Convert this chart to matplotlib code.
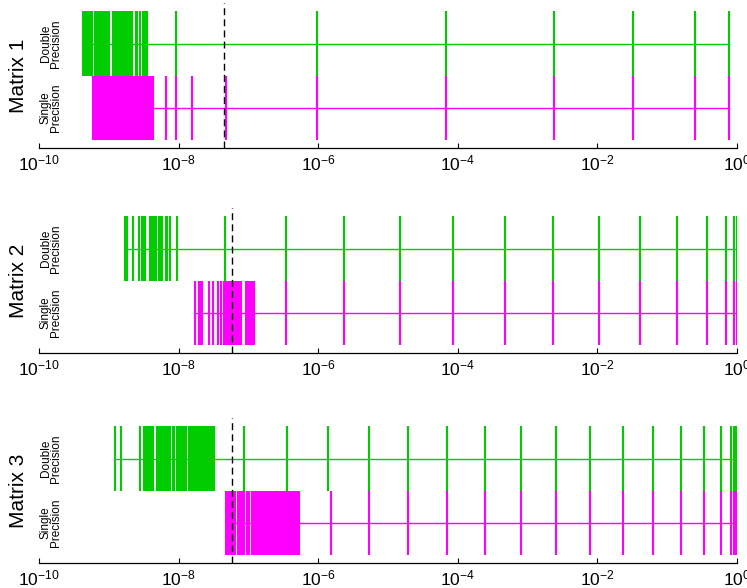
import numpy as np
import matplotlib
matplotlib.use("Agg")
import matplotlib.pyplot as plt
from matplotlib.transforms import blended_transform_factory

plt.rcParams["font.family"] = ["Liberation Sans", "DejaVu Sans"]
plt.rcParams["mathtext.default"] = "regular"

# log10 of each value
M1_DOUBLE = [-9.37, -9.35, -9.33, -9.31, -9.29, -9.27, -9.24, -9.20, -9.18, -9.16,
             -9.14, -9.12, -9.10, -9.08, -9.06, -9.04, -9.02, -9.00, -8.95, -8.93,
             -8.91, -8.89, -8.87, -8.85, -8.83, -8.81, -8.79, -8.77, -8.75, -8.73,
             -8.71, -8.69, -8.67, -8.62, -8.60, -8.55, -8.52, -8.49, -8.46,
             -8.041, -6.020, -4.171, -2.623, -1.491, -0.602, -0.115]
M1_SINGLE = [-9.23, -9.21, -9.19, -9.17, -9.15, -9.13, -9.11, -9.09, -9.07, -9.05,
             -9.03, -9.01, -8.99, -8.97, -8.95, -8.93, -8.91, -8.89, -8.87, -8.85,
             -8.83, -8.81, -8.79, -8.77, -8.75, -8.73, -8.71, -8.69, -8.67, -8.65,
             -8.63, -8.61, -8.59, -8.57, -8.55, -8.53, -8.51, -8.49, -8.47, -8.45,
             -8.43, -8.41, -8.39, -8.37,
             -8.184, -8.041, -7.811, -7.324,
             -6.020, -4.171, -2.623, -1.491, -0.602, -0.115]

M2_DOUBLE = [-8.767, -8.739, -8.653, -8.567, -8.524, -8.499, -8.485, -8.418, -8.399,
             -8.366, -8.352, -8.332, -8.280, -8.260, -8.246, -8.188, -8.174, -8.127,
             -8.026, -7.334,
             -6.464, -5.633, -4.830, -4.066, -3.329, -2.637, -1.982, -1.390, -0.860,
             -0.430, -0.157, -0.036, -0.004]
M2_SINGLE = [-7.768, -7.707, -7.682, -7.664, -7.563, -7.510, -7.443, -7.396, -7.348,
             -7.334, -7.310, -7.291, -7.277, -7.257, -7.219, -7.205, -7.191, -7.176,
             -7.162, -7.148, -7.133, -7.119, -7.105, -7.042, -7.023, -7.004, -6.984,
             -6.966, -6.941, -6.916,
             -6.464, -5.633, -4.830, -4.066, -3.329, -2.637, -1.982, -1.390, -0.860,
             -0.430, -0.157, -0.036, -0.004]

M3_DOUBLE = [-8.919, -8.829, -8.561, -8.504, -8.485, -8.452, -8.432, -8.413, -8.389,
             -8.366, -8.31, -8.29, -8.27, -8.25, -8.23, -8.21, -8.19, -8.16, -8.13,
             -8.09, -8.07, -8.02, -8.00, -7.98, -7.96, -7.94, -7.92, -7.90, -7.86,
             -7.84, -7.82, -7.79, -7.77, -7.75, -7.73, -7.69, -7.67, -7.64, -7.62,
             -7.60, -7.58, -7.56, -7.54, -7.52, -7.50,
             -7.062, -6.450, -5.862, -5.275, -4.715, -4.157, -3.612, -3.100, -2.594,
             -2.103, -1.638, -1.204, -0.803, -0.477, -0.229, -0.090, -0.043, -0.029,
             -0.014, -0.002]
M3_SINGLE = [-7.32, -7.30, -7.27, -7.25, -7.23, -7.21, -7.19, -7.15, -7.13, -7.11,
             -7.09, -7.07, -7.03, -7.01, -6.99, -6.95, -6.925, -6.90, -6.875, -6.85,
             -6.825, -6.80, -6.775, -6.75, -6.725, -6.70, -6.675, -6.65, -6.625,
             -6.60, -6.575, -6.55, -6.525, -6.50, -6.475, -6.45, -6.425, -6.40,
             -6.375, -6.35, -6.325, -6.30, -6.275,
             -5.823, -5.275, -4.715, -4.157, -3.612, -3.100, -2.594, -2.103, -1.638,
             -1.204, -0.803, -0.477, -0.229, -0.090, -0.043, -0.029, -0.014, -0.002]

# dashed reference line per matrix (log10)
THRESHOLDS = [-7.353, -7.238, -7.238]

MATRICES = ["Matrix 1", "Matrix 2", "Matrix 3"]
ROW_LABELS = ["Double\nPrecision", "Single\nPrecision"]
XTICKS = [1e-10, 1e-8, 1e-6, 1e-4, 1e-2, 1e0]
XTICKLABELS = ["$10^{-10}$", "$10^{-8}$", "$10^{-6}$", "$10^{-4}$", "$10^{-2}$", "$10^{0}$"]

GREEN = "#00cc00"
MAGENTA = "#ff00ff"

W, H = 747, 588
fig = plt.figure(figsize=(W / 100, H / 100), dpi=100)

data = [(M1_DOUBLE, M1_SINGLE), (M2_DOUBLE, M2_SINGLE), (M3_DOUBLE, M3_SINGLE)]
axis_bottom_px = [148, 353, 563]
left_px, right_px, height_px = 39.3, 737.0, 145.0

for i, ((dbl, sgl), name, thr) in enumerate(zip(data, MATRICES, THRESHOLDS)):
    ax = fig.add_axes([left_px / W, (H - axis_bottom_px[i]) / H,
                       (right_px - left_px) / W, height_px / H])
    ax.set_xscale("log")
    ax.set_xlim(1e-10, 1e0)
    ax.set_ylim(0.38, 2.63)

    for vals, yc, color in [(dbl, 2.0, GREEN), (sgl, 1.0, MAGENTA)]:
        v = 10.0 ** np.array(vals)
        ax.hlines(yc, v.min(), v.max(), colors=color, linewidth=1.0)
        ax.vlines(v, yc - 0.5, yc + 0.5, colors=color, linewidth=1.5)

    ax.axvline(10.0 ** thr, color="black", linestyle=(0, (5, 3)), linewidth=1.0)

    for s in ["left", "top", "right"]:
        ax.spines[s].set_visible(False)
    ax.spines["bottom"].set_linewidth(0.9)
    ax.set_yticks([])
    ax.set_xticks(XTICKS)
    ax.set_xticklabels(XTICKLABELS, fontsize=12.5)
    ax.minorticks_off()
    ax.tick_params(axis="x", direction="in", length=3.5, width=0.8, pad=4)

    tr = blended_transform_factory(ax.transAxes, ax.transData)
    for lbl, yc in zip(ROW_LABELS, [2.0, 1.0]):
        ax.text((51 - left_px) / (right_px - left_px), yc, lbl, transform=tr,
                rotation=90, ha="center", va="center", fontsize=8.5,
                linespacing=0.85)
    ax.text((19 - left_px) / (right_px - left_px), 1.5, name, transform=tr,
            rotation=90, ha="center", va="center", fontsize=15)

fig.savefig("out.png", dpi=100, facecolor="white")
